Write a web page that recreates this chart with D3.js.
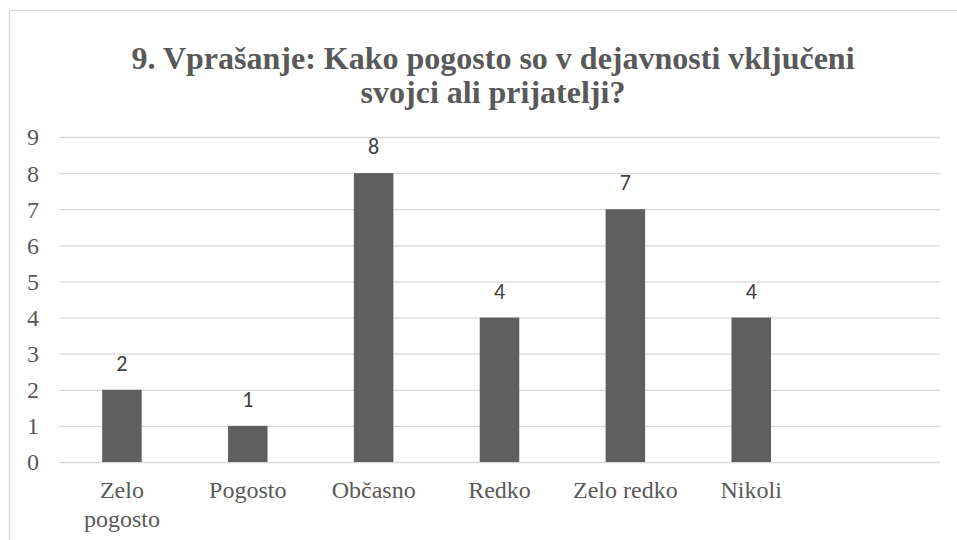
<!DOCTYPE html>
<html>
<head>
<meta charset="utf-8">
<script src="https://cdn.jsdelivr.net/npm/d3@7"></script>
<style>
  body { margin: 0; background: #fff; }
</style>
</head>
<body>
<script>
var titleLines = ["9. Vprašanje: Kako pogosto so v dejavnosti vključeni", "svojci ali prijatelji?"];
var categories = ["Zelo pogosto", "Pogosto", "Občasno", "Redko", "Zelo redko", "Nikoli"];
var values = [2, 1, 8, 4, 7, 4];
var yTicks = [0, 1, 2, 3, 4, 5, 6, 7, 8, 9];

var width = 957, height = 540;
var plotLeft = 59, plotRight = 940, plotTop = 137, plotBottom = 462;

var svg = d3.select("body")
    .append("svg")
    .attr("width", width)
    .attr("height", height);

// chart border (runs off the right and bottom edges)
svg.append("rect")
    .attr("x", 9.5)
    .attr("y", 10.5)
    .attr("width", 1000)
    .attr("height", 600)
    .attr("fill", "white")
    .attr("stroke", "#d9d9d9")
    .attr("stroke-width", 1.3);

// one empty slot at the end, as in the original
var x = d3.scaleBand()
    .domain(categories.concat([" "]))
    .range([plotLeft, plotRight])
    .paddingInner(0.686)
    .paddingOuter(0.343);

var y = d3.scaleLinear()
    .domain([0, 9])
    .range([plotBottom, plotTop]);

// title
svg.selectAll(".title")
    .data(titleLines)
    .enter()
    .append("text")
    .attr("class", "title")
    .attr("x", 493)
    .attr("y", function(d, i) { return 69 + i * 34; })
    .attr("text-anchor", "middle")
    .attr("font-family", "'Liberation Serif', 'Times New Roman', serif")
    .attr("font-weight", "bold")
    .attr("font-size", "32px")
    .attr("fill", "#595959")
    .text(function(d) { return d; });

// y axis with gridlines
var yAxis = svg.append("g")
    .attr("transform", "translate(" + plotLeft + ",0)")
    .call(d3.axisLeft(y)
        .tickValues(yTicks)
        .tickSize(-(plotRight - plotLeft))
        .tickPadding(20)
        .tickFormat(d3.format("d")));

yAxis.select(".domain").remove();
yAxis.selectAll("line")
    .attr("stroke", "#d9d9d9")
    .attr("stroke-width", 1.3);
yAxis.selectAll("text")
    .attr("font-family", "'Liberation Serif', 'Times New Roman', serif")
    .attr("font-size", "24px")
    .attr("fill", "#595959")
    .attr("dy", "0.33em");

// bars
svg.selectAll(".bar")
    .data(values)
    .enter()
    .append("rect")
    .attr("class", "bar")
    .attr("x", function(d, i) { return x(categories[i]); })
    .attr("y", function(d) { return y(d); })
    .attr("width", x.bandwidth())
    .attr("height", function(d) { return y(0) - y(d); })
    .attr("fill", "#5f5f5f");

// data labels
svg.selectAll(".label")
    .data(values)
    .enter()
    .append("text")
    .attr("class", "label")
    .attr("x", function(d, i) { return x(categories[i]) + x.bandwidth() / 2; })
    .attr("y", function(d) { return y(d) - 19; })
    .attr("text-anchor", "middle")
    .attr("font-family", "Carlito, Calibri, 'Noto Sans', sans-serif")
    .attr("font-size", "22px")
    .attr("fill", "#404040")
    .text(function(d) { return d; });

// category labels, wrapped when wider than the slot
var catText = svg.selectAll(".cat")
    .data(categories)
    .enter()
    .append("text")
    .attr("class", "cat")
    .attr("text-anchor", "middle")
    .attr("font-family", "'Liberation Serif', 'Times New Roman', serif")
    .attr("font-size", "24px")
    .attr("fill", "#595959")
    .attr("transform", function(d) {
        return "translate(" + (x(d) + x.bandwidth() / 2) + "," + (plotBottom + 36) + ")";
    });

catText.each(function(d) {
    var t = d3.select(this);
    var words = d.split(" ");
    var line = [];
    var lineNo = 0;
    var tspan = t.append("tspan").attr("x", 0).attr("y", 0);
    words.forEach(function(w) {
        line.push(w);
        tspan.text(line.join(" "));
        if (tspan.node().getComputedTextLength() > x.step() - 2 && line.length > 1) {
            line.pop();
            tspan.text(line.join(" "));
            line = [w];
            lineNo++;
            tspan = t.append("tspan").attr("x", 0).attr("y", lineNo * 29).text(w);
        }
    });
});
</script>
</body>
</html>
